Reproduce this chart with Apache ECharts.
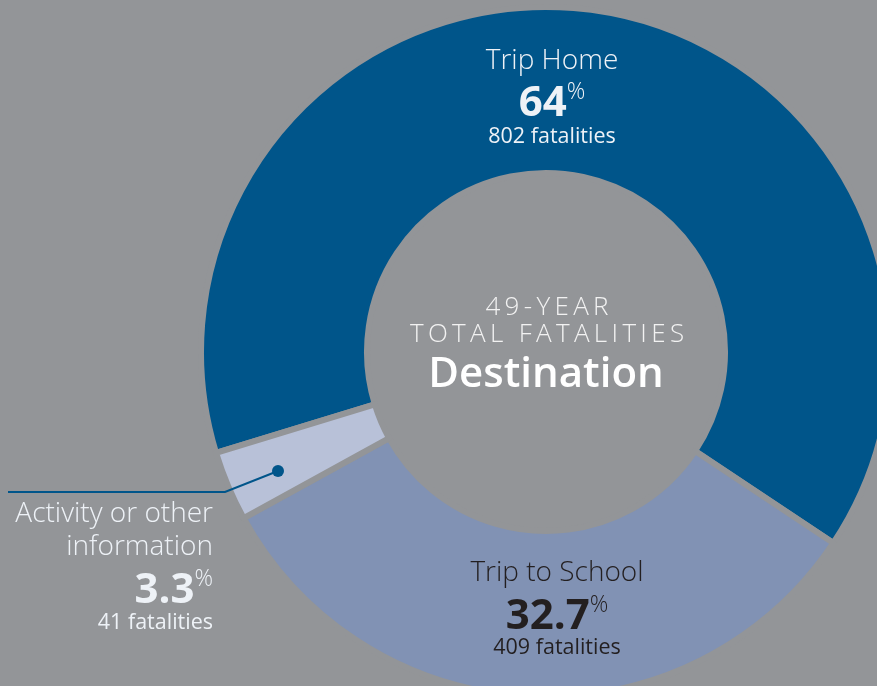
<!DOCTYPE html>
<html>
<head>
<meta charset="utf-8">
<script src="https://cdn.jsdelivr.net/npm/echarts@6/dist/echarts.min.js"></script>
<style>
html,body{margin:0;padding:0;background:#939598;}
#c{width:877px;height:686px;}
</style>
</head>
<body>
<div id="c"></div>
<script>
var categories = ['Trip Home', 'Trip to School', 'Activity or other\ninformation'];
var fatalities = [802, 409, 41];
var percentLabels = ['64', '32.7', '3.3'];
var colors = ['#00558a', '#8192b4', '#b8c1d8'];
var centerLines = ['49-YEAR', 'TOTAL FATALITIES', 'Destination'];

var BG = '#939598';
var FONT = '"Open Sans", "Noto Sans", sans-serif';
var chart = echarts.init(document.getElementById('c'));

function spaced(s) { return s.split('').join('\u2009'); }

// label placement (layout only)
var layout = [
  { x: 552, align: 'center', color: '#eef2f7', nameY: [61.5], pctY: 104, cntY: 136.5 },
  { x: 557, align: 'center', color: '#231f20', nameY: [573.5], pctY: 617, cntY: 647.5 },
  { x: 213, align: 'right', color: '#eef2f7', nameY: [514.5, 547.5], pctY: 591, cntY: 622.5 }
];

var labelEls = [];
layout.forEach(function (L, i) {
  categories[i].split('\n').forEach(function (line, k) {
    labelEls.push({ type: 'text', x: L.x, y: L.nameY[k], z: 100, style: {
      text: line, align: L.align, verticalAlign: 'middle',
      fontFamily: FONT, fontWeight: 300, fontSize: 28, fill: L.color } });
  });
  labelEls.push({ type: 'text', x: L.x, y: L.pctY, z: 100, style: {
    text: '{pct|' + percentLabels[i] + '}{sup|%}', align: L.align, verticalAlign: 'middle',
    rich: {
      pct: { fontFamily: FONT, fontWeight: 'bold', fontSize: 42, lineHeight: 47, fill: L.color },
      sup: { fontFamily: FONT, fontWeight: 300, fontSize: 23, lineHeight: 30, verticalAlign: 'top', fill: L.color }
    } } });
  labelEls.push({ type: 'text', x: L.x, y: L.cntY, z: 100, style: {
    text: fatalities[i] + ' fatalities', align: L.align, verticalAlign: 'middle',
    fontFamily: FONT, fontWeight: 'normal', fontSize: 21.5, fill: L.color } });
});

var option = {
  backgroundColor: BG,
  animation: false,
  series: [{
    type: 'pie',
    z: 1,
    center: [546, 352],
    radius: [179, 345],
    startAngle: 197,
    clockwise: true,
    silent: true,
    label: { show: false },
    labelLine: { show: false },
    itemStyle: { borderColor: BG, borderWidth: 6 },
    data: categories.map(function (c, i) {
      return { name: c, value: fatalities[i], itemStyle: { color: colors[i] } };
    })
  }],
  graphic: {
    elements: [
      { type: 'group', z: 100, children: labelEls.concat([
        { type: 'text', x: 547, y: 294, z: 100, style: {
            text: spaced(centerLines[0]) + '\n' + spaced(centerLines[1]), align: 'center', verticalAlign: 'top',
            fontFamily: FONT, fontWeight: 300, fontSize: 26, lineHeight: 27, fill: '#f2f2f2' } },
        { type: 'text', x: 546, y: 354, z: 100, style: {
            text: centerLines[2], align: 'center', verticalAlign: 'top',
            fontFamily: FONT, fontWeight: 600, fontSize: 42, fill: '#ffffff' } },
        { type: 'polyline', z: 100, shape: { points: [[8, 492], [225, 492], [278, 471]] },
          style: { stroke: '#00558a', lineWidth: 2, fill: null } },
        { type: 'circle', z: 100, shape: { cx: 278, cy: 471, r: 6 }, style: { fill: '#00558a' } }
      ]) }
    ]
  }
};
chart.setOption(option);
</script>
</body>
</html>
